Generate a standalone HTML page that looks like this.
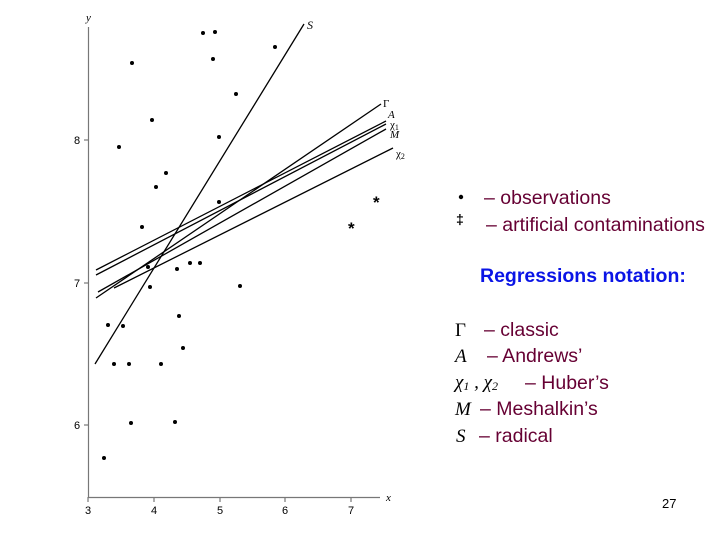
<!DOCTYPE html>
<html><head><meta charset="utf-8"><style>
html,body{margin:0;padding:0;background:#fff;}
svg{display:block}
.t{font-family:"Liberation Sans",sans-serif;font-size:19.5px;fill:#660033}
.m{font-family:"Liberation Serif",serif;font-style:italic;font-size:19px;fill:#000}
.tk{font-family:"Liberation Sans",sans-serif;font-size:11px;fill:#000}
.lb{font-family:"Liberation Serif",serif;font-style:italic;font-size:11px;fill:#000}
</style></head><body>
<svg width="720" height="540" viewBox="0 0 720 540" xmlns="http://www.w3.org/2000/svg">
<g stroke="#777" stroke-width="1.2" fill="none">
<line x1="88.5" y1="27" x2="88.5" y2="498"/>
<line x1="88" y1="497.5" x2="380" y2="497.5"/>
<line x1="154" y1="497" x2="154" y2="502"/><line x1="220" y1="497" x2="220" y2="502"/>
<line x1="285" y1="497" x2="285" y2="502"/><line x1="351" y1="497" x2="351" y2="502"/>
<line x1="88" y1="497" x2="88" y2="502"/>
<line x1="84" y1="140" x2="88" y2="140"/><line x1="84" y1="283" x2="88" y2="283"/><line x1="84" y1="425" x2="88" y2="425"/>
</g>
<g class="tk">
<text x="85" y="514">3</text><text x="151" y="514">4</text><text x="217" y="514">5</text><text x="282" y="514">6</text><text x="348" y="514">7</text>
<text x="74" y="144">8</text><text x="74" y="287">7</text><text x="74" y="429">6</text>
</g>
<text class="lb" x="86" y="21">y</text>
<text class="lb" x="386" y="501">x</text>
<g stroke="#000" stroke-width="1.3">
<line x1="95" y1="364" x2="304" y2="24"/>
<line x1="96" y1="270" x2="386" y2="121"/>
<line x1="96" y1="275" x2="386" y2="124"/>
<line x1="98" y1="292" x2="386" y2="129"/>
<line x1="96" y1="298" x2="381" y2="104"/>
<line x1="114" y1="288" x2="393" y2="148"/>
</g>
<g class="lb">
<text x="307" y="29" font-size="12">S</text>
<text x="383" y="107" style="font-style:normal">Γ</text>
<text x="388" y="118">A</text>
<text x="390" y="128" style="font-style:normal">χ<tspan font-size="8" dy="2">1</tspan></text>
<text x="390" y="138">M</text>
<text x="396" y="157" style="font-style:normal">χ<tspan font-size="8" dy="2">2</tspan></text>
</g>
<g fill="#000">
<circle cx="203" cy="33" r="2"/><circle cx="215" cy="32" r="2"/><circle cx="213" cy="59" r="2"/><circle cx="275" cy="47" r="2"/>
<circle cx="132" cy="63" r="2"/><circle cx="236" cy="94" r="2"/><circle cx="152" cy="120" r="2"/><circle cx="219" cy="137" r="2"/>
<circle cx="119" cy="147" r="2"/><circle cx="166" cy="173" r="2"/><circle cx="156" cy="187" r="2"/><circle cx="142" cy="227" r="2"/>
<circle cx="219" cy="202" r="2"/><circle cx="148" cy="267" r="2"/><circle cx="177" cy="269" r="2"/><circle cx="190" cy="263" r="2"/>
<circle cx="200" cy="263" r="2"/><circle cx="150" cy="287" r="2"/><circle cx="240" cy="286" r="2"/><circle cx="108" cy="325" r="2"/>
<circle cx="123" cy="326" r="2"/><circle cx="179" cy="316" r="2"/><circle cx="114" cy="364" r="2"/><circle cx="129" cy="364" r="2"/>
<circle cx="161" cy="364" r="2"/><circle cx="183" cy="348" r="2"/><circle cx="131" cy="423" r="2"/><circle cx="175" cy="422" r="2"/>
<circle cx="104" cy="458" r="2"/>
</g>
<text x="373" y="208" font-family="Liberation Sans" font-size="17" font-weight="bold">*</text>
<text x="348" y="234" font-family="Liberation Sans" font-size="17" font-weight="bold">*</text>
<circle cx="461" cy="197" r="2.2" fill="#000"/>
<text x="456" y="224" font-family="Liberation Sans" font-size="14" font-weight="bold">‡</text>
<text class="t" x="484" y="204">– observations</text>
<text class="t" x="486" y="231">– artificial contaminations</text>
<text x="480" y="282" font-family="Liberation Sans" font-size="19.5" font-weight="bold" fill="#0a14e6">Regressions notation:</text>
<text class="m" x="455" y="336" style="font-style:normal">Γ</text><text class="t" x="484" y="336">–  classic</text>
<text class="m" x="455" y="362">A</text><text class="t" x="487" y="362">– Andrews’</text>
<text class="m" x="455" y="388">χ<tspan font-size="12" dy="2">1</tspan><tspan dy="-2"> , χ</tspan><tspan font-size="12" dy="2">2</tspan></text><text class="t" x="525" y="389">– Huber’s</text>
<text class="m" x="455" y="415">M</text><text class="t" x="480" y="415">– Meshalkin’s</text>
<text class="m" x="456" y="442">S</text><text class="t" x="479" y="442">– radical</text>
<text x="662" y="508" font-family="Liberation Sans" font-size="13" fill="#000">27</text>
</svg>
</body></html>
